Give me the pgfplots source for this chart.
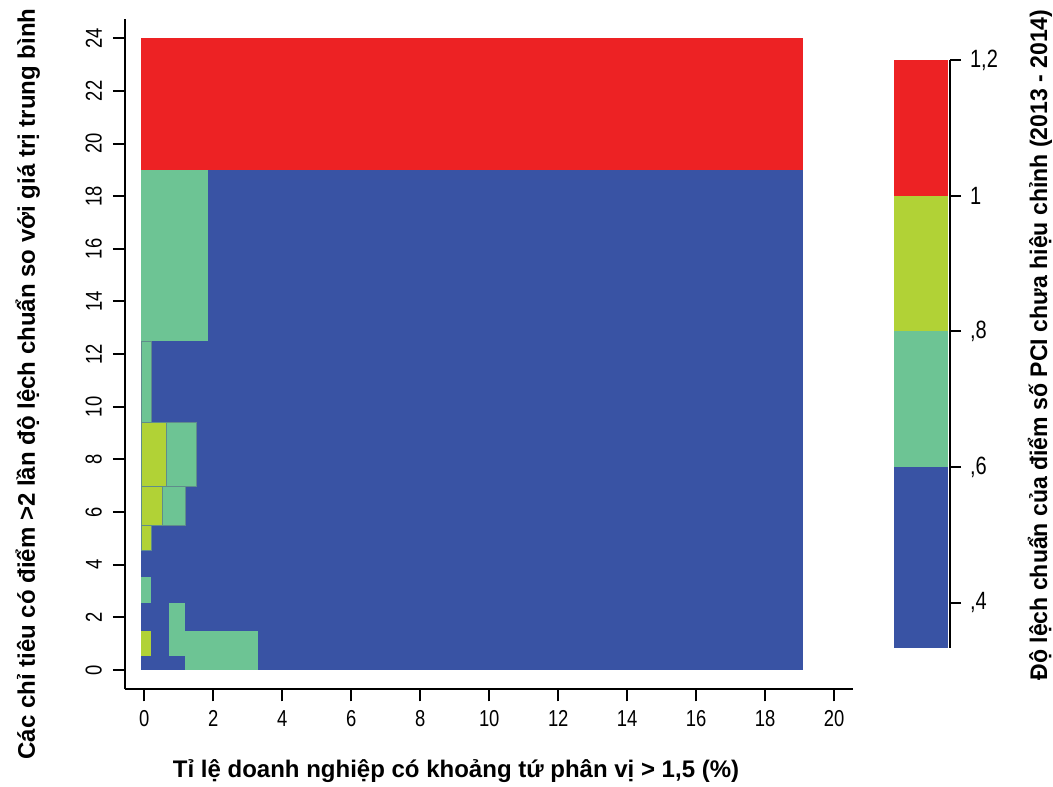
\documentclass[border=0pt]{standalone}
\usepackage{pgfplots}
\pgfplotsset{compat=1.18}
\usepackage{fontspec}
\setmainfont{Liberation Sans}
\newfontfamily\tickfont{Liberation Sans}[FakeStretch=0.8]
\newfontfamily\labfont{Liberation Sans}
\newfontfamily\rlabfont{Liberation Sans}[FakeStretch=0.96]
\definecolor{cred}{RGB}{237,34,36}
\definecolor{cyel}{RGB}{177,210,54}
\definecolor{cgrn}{RGB}{109,196,148}
\definecolor{cblu}{RGB}{57,83,164}
\definecolor{cedge}{RGB}{95,140,140}
\begin{document}
\begin{tikzpicture}
\path[use as bounding box] (-62.5pt,-48.35pt) rectangle (464pt,344.65pt);
\begin{axis}[
  at={(0pt,0pt)}, anchor=south west,
  width=363.9pt, height=335pt, scale only axis,
  xmin=-0.56, xmax=20.54, ymin=-0.733, ymax=24.72,
  axis x line*=bottom, axis y line*=left,
  axis line style={line width=1pt, black},
  xtick={0,2,...,20}, ytick={0,2,...,24},
  tick align=outside, major tick length=6pt,
  tick style={line width=1pt, black},
  /pgf/number format/assume math mode=true,
  xticklabel style={font=\tickfont\fontsize{11.5}{12}\selectfont, yshift=-1pt},
  yticklabel style={font=\tickfont\fontsize{11.5}{12}\selectfont, rotate=90, anchor=south, yshift=2pt},
]
\addplot[fill=cblu, draw=none] coordinates {(-0.1,0) (19.1,0) (19.1,19) (-0.1,19)} -- cycle;
\addplot[fill=cred, draw=none] coordinates {(-0.1,19) (19.1,19) (19.1,24) (-0.1,24)} -- cycle;
\addplot[fill=cgrn, draw=none] coordinates {(-0.1,12.5) (1.84,12.5) (1.84,19) (-0.1,19)} -- cycle;
\addplot[fill=cgrn, draw=cedge, line width=0.3pt] coordinates {(-0.1,9.42) (0.2,9.42) (0.2,12.5) (-0.1,12.5)} -- cycle;
\addplot[fill=cyel, draw=cedge, line width=0.3pt] coordinates {(-0.1,6.99) (0.64,6.99) (0.64,9.42) (-0.1,9.42)} -- cycle;
\addplot[fill=cgrn, draw=cedge, line width=0.3pt] coordinates {(0.64,6.99) (1.51,6.99) (1.51,9.42) (0.64,9.42)} -- cycle;
\addplot[fill=cyel, draw=cedge, line width=0.3pt] coordinates {(-0.1,5.50) (0.53,5.50) (0.53,6.99) (-0.1,6.99)} -- cycle;
\addplot[fill=cgrn, draw=cedge, line width=0.3pt] coordinates {(0.53,5.50) (1.18,5.50) (1.18,6.99) (0.53,6.99)} -- cycle;
\addplot[fill=cyel, draw=cedge, line width=0.3pt] coordinates {(-0.1,4.54) (0.19,4.54) (0.19,5.50) (-0.1,5.50)} -- cycle;
\addplot[fill=cgrn, draw=none] coordinates {(-0.1,2.53) (0.2,2.53) (0.2,3.52) (-0.1,3.52)} -- cycle;
\addplot[fill=cgrn, draw=none] coordinates {(0.72,0.55) (1.18,0.55) (1.18,2.53) (0.72,2.53)} -- cycle;
\addplot[fill=cgrn, draw=none] coordinates {(1.18,0) (3.31,0) (3.31,1.50) (1.18,1.50)} -- cycle;
\addplot[fill=cyel, draw=none] coordinates {(-0.1,0.52) (0.2,0.52) (0.2,1.50) (-0.1,1.50)} -- cycle;
\end{axis}
\begin{axis}[
  at={(384.5pt,20.8pt)}, anchor=south west,
  width=28pt, height=293.85pt, scale only axis,
  xmin=0, xmax=1, ymin=0.334, ymax=1.2,
  axis x line=none, axis y line*=right,
  axis line style={line width=1pt, black},
  ytick={0.4,0.6,0.8,1,1.2},
  yticklabels={{,4},{,6},{,8},1,{1,2}},
  tick align=outside, major tick length=5.5pt,
  tick style={line width=1pt, black},
  yticklabel style={font=\tickfont\fontsize{12.5}{12}\selectfont, xshift=1pt},
]
\addplot[fill=cblu, draw=none] coordinates {(0,0.334) (0.97,0.334) (0.97,0.6) (0,0.6)} -- cycle;
\addplot[fill=cgrn, draw=none] coordinates {(0,0.6) (0.97,0.6) (0.97,0.8) (0,0.8)} -- cycle;
\addplot[fill=cyel, draw=none] coordinates {(0,0.8) (0.97,0.8) (0.97,1.0) (0,1.0)} -- cycle;
\addplot[fill=cred, draw=none] coordinates {(0,1.0) (0.97,1.0) (0.97,1.2) (0,1.2)} -- cycle;
\end{axis}
\node[anchor=base, inner sep=0pt, font=\labfont\bfseries\fontsize{12}{13}\selectfont] at (165.5pt,-43.85pt) {Tỉ lệ doanh nghiệp có khoảng tứ phân vị > 1,5 (\%)};
\node[anchor=base, rotate=90, inner sep=0pt, font=\labfont\bfseries\fontsize{12}{13}\selectfont] at (-45pt,152.65pt) {Các chỉ tiêu có điểm >2 lần độ lệch chuẩn so với giá trị trung bình};
\node[anchor=base, rotate=90, inner sep=0pt, font=\rlabfont\bfseries\fontsize{12}{13}\selectfont] at (461pt,172.15pt) {Độ lệch chuẩn của điểm số PCI chưa hiệu chỉnh (2013 - 2014)};
\end{tikzpicture}
\end{document}
